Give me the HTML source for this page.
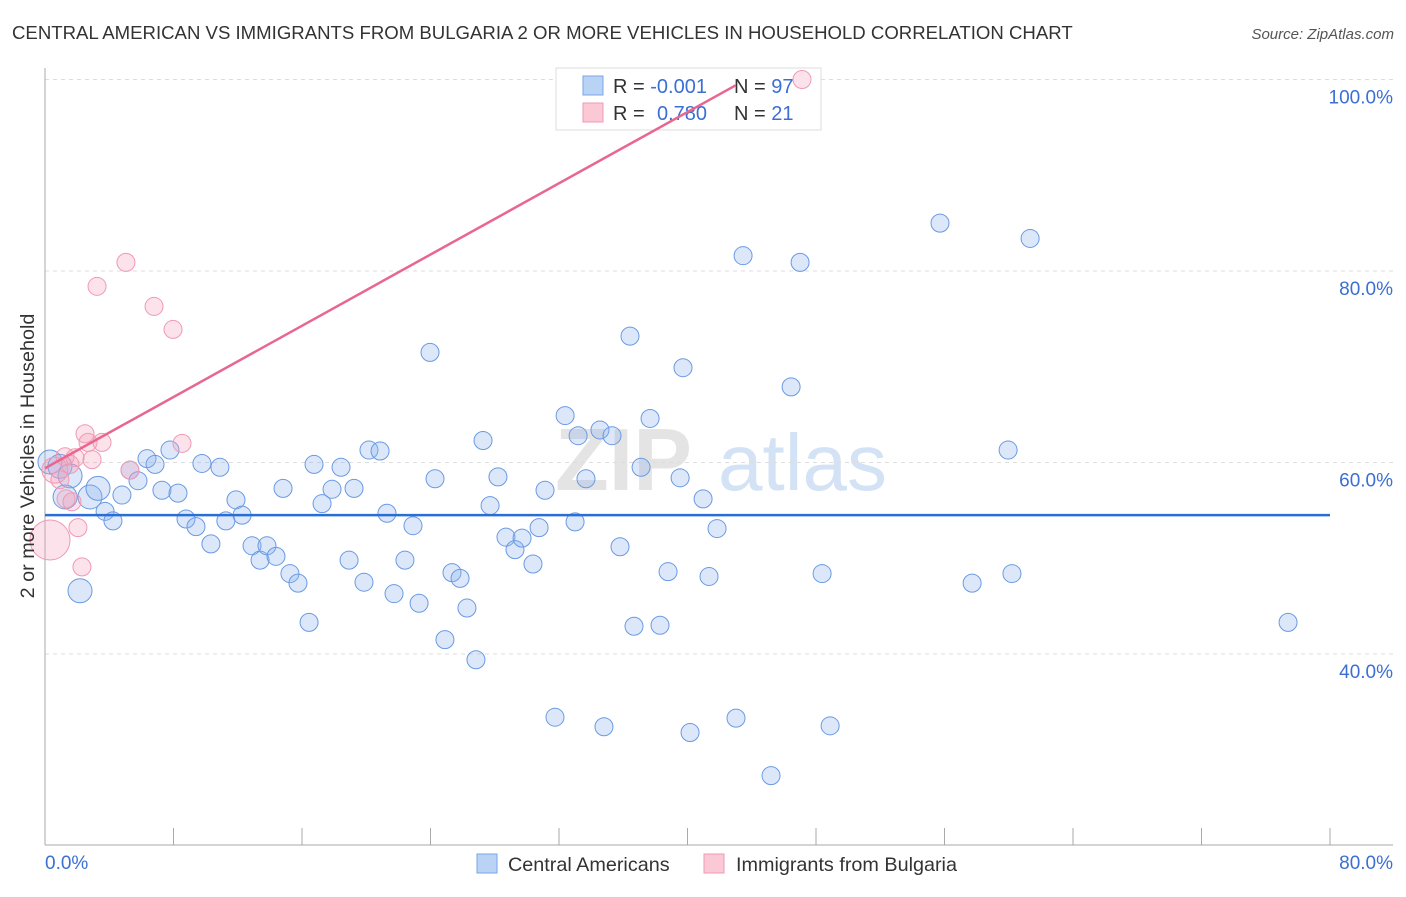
<!DOCTYPE html>
<html><head><meta charset="utf-8"><style>
body{margin:0;background:#fff;font-family:"Liberation Sans",sans-serif;}
svg text{font-family:"Liberation Sans",sans-serif;}
</style></head><body>
<svg width="1406" height="892" viewBox="0 0 1406 892" xmlns="http://www.w3.org/2000/svg">
<text x="12" y="39" font-size="18.6" fill="#333">CENTRAL AMERICAN VS IMMIGRANTS FROM BULGARIA 2 OR MORE VEHICLES IN HOUSEHOLD CORRELATION CHART</text>
<text x="1394" y="39" font-size="15" fill="#555" text-anchor="end" font-style="italic">Source: ZipAtlas.com</text>
<g>
<text x="555" y="490" font-size="88" fill="#e4e4e4" font-family="Liberation Serif" font-weight="bold">ZIP</text>
<text x="718" y="490" font-size="80" fill="#d4e2f5">atlas</text></g>
<g id="grid"></g>
<g id="axes"></g>
<g>
<rect x="556" y="68" width="265" height="62" fill="#fff" stroke="#ddd"/>
<rect x="583" y="76" width="20" height="19" fill="#b9d3f5" stroke="#7aa5e6"/>
<rect x="583" y="103" width="20" height="19" fill="#fbc8d6" stroke="#ef9ab4"/>
<text x="613" y="93" font-size="20" fill="#333">R = <tspan fill="#3b6fd4">-0.001</tspan></text>
<text x="734" y="93" font-size="20" fill="#333">N = <tspan fill="#3b6fd4">97</tspan></text>
<text x="613" y="120" font-size="20" fill="#333">R = <tspan fill="#3b6fd4" x="657">0.780</tspan></text>
<text x="734" y="120" font-size="20" fill="#333">N = <tspan fill="#3b6fd4">21</tspan></text>
</g>
<g id="marks"></g>
<text transform="translate(34,456) rotate(-90)" font-size="19.8" fill="#333" text-anchor="middle">2 or more Vehicles in Household</text>
<text x="45" y="869" font-size="19" fill="#3b6fd4">0.0%</text>
<text x="1393" y="869" font-size="19" fill="#3b6fd4" text-anchor="end">80.0%</text>
<g>
<rect x="477" y="854" width="20" height="19" fill="#b9d3f5" stroke="#7aa5e6"/>
<text x="508" y="871" font-size="19.8" fill="#333">Central Americans</text>
<rect x="704" y="854" width="20" height="19" fill="#fbc8d6" stroke="#ef9ab4"/>
<text x="736" y="871" font-size="19.8" fill="#333">Immigrants from Bulgaria</text>
</g>
</svg>
<script>
const blueX=[0.31,0.93,1.56,1.25,2.80,3.30,2.18,3.74,4.23,4.79,5.29,5.79,6.35,6.85,7.28,7.78,8.28,8.78,9.40,9.77,10.33,10.89,11.26,11.89,12.27,12.89,13.39,13.82,14.38,14.82,15.25,15.75,16.44,16.75,17.25,17.87,18.43,18.93,19.24,19.86,20.17,20.86,21.29,21.73,22.41,22.91,23.29,23.97,24.28,24.90,25.34,25.84,26.27,26.83,27.27,27.71,28.20,28.70,29.26,29.70,30.38,30.76,31.13,31.75,32.38,33.00,33.19,33.68,34.55,34.80,35.30,35.80,36.42,36.67,37.11,37.67,38.29,38.79,39.54,39.72,40.16,40.97,41.34,41.84,43.02,43.46,45.20,46.45,47.01,48.38,48.88,55.72,57.72,59.96,60.20,61.33,77.39];
const blueY=[60.05,59.6,58.6,56.4,56.4,57.3,46.6,54.9,53.9,56.6,59.2,58.1,60.4,59.8,57.1,61.3,56.8,54.1,53.3,59.9,51.5,59.5,53.9,56.1,54.5,51.3,49.8,51.3,50.2,57.3,48.4,47.4,43.3,59.8,55.7,57.2,59.5,49.8,57.3,47.5,61.3,61.2,54.7,46.3,49.8,53.4,45.3,71.5,58.3,41.5,48.5,47.9,44.8,39.4,62.3,55.5,58.5,52.2,50.9,52.1,49.4,53.2,57.1,33.4,64.9,53.8,62.8,58.3,63.4,32.4,62.8,51.2,73.2,42.9,59.5,64.6,43.0,48.6,58.4,69.9,31.8,56.2,48.1,53.1,33.3,81.6,27.3,67.9,80.9,48.4,32.5,85.0,47.4,61.3,48.4,83.4,43.3];
const pinkX=[0.31,0.62,0.93,1.25,1.56,1.31,1.68,1.87,2.05,2.30,2.49,2.68,2.93,3.24,3.55,5.04,5.29,6.79,7.97,8.53,47.13];
const pinkY=[51.9,59.2,58.2,60.6,59.8,56.2,55.9,60.5,53.2,49.1,63.0,62.1,60.3,78.4,62.1,80.9,59.2,76.3,73.9,62.0,100.0];
const pinkR=[20,13,9,9,9,9,9,9,9,9,9,9,9,9,9,9,9,9,9,9,9];
const yTicks=[100,80,60,40];
const yTickLabels=["100.0%","80.0%","60.0%","40.0%"];
const xTicks=[0,8,16,24,32,40,48,56,64,72,80];
const blueFit={a:54.5,b:0};
const pinkFit={a:59.4,b:0.93,xEnd:43};
const X=v=>45+v/80*1285;
const Y=v=>79.5+(100-v)/20*191.5;
const NS="http://www.w3.org/2000/svg";
function mk(t,a,p){const e=document.createElementNS(NS,t);for(const k in a)e.setAttribute(k,a[k]);document.getElementById(p).appendChild(e);return e;}
yTicks.forEach((t,i)=>{
 const l=mk('line',{x1:45,x2:1393,y1:Y(t),y2:Y(t),stroke:'#ddd','stroke-dasharray':'4,4'},'grid');
 
 
 const tx=mk('text',{x:1393,y:Y(t)+24,'font-size':19,fill:'#3b6fd4','text-anchor':'end'},'grid');
 tx.textContent=yTickLabels[i];
 
 
});
const ya=mk('line',{x1:45,x2:45,y1:68,y2:845,stroke:'#aaa'},'axes');


const xa=mk('line',{x1:45,x2:1393,y1:845,y2:845,stroke:'#aaa'},'axes');


xTicks.forEach(t=>{
 const l=mk('line',{x1:X(t),x2:X(t),y1:828,y2:845,stroke:'#aaa'},'axes');
 
 
});
blueX.forEach((v,i)=>{
 const r=i<7?12:9;
 const c=mk('circle',{cx:X(v),cy:Y(blueY[i]),r:r,fill:'rgba(140,180,240,0.3)',stroke:'#6a9ae3','stroke-width':1},'marks');
 
 
});
pinkX.forEach((v,i)=>{
 const c=mk('circle',{cx:X(v),cy:Y(pinkY[i]),r:pinkR[i],fill:'rgba(245,160,185,0.3)',stroke:'#f09ab4','stroke-width':1},'marks');
 
 
});
const bl=mk('line',{x1:X(0),x2:X(80),y1:Y(blueFit.a),y2:Y(blueFit.a+80*blueFit.b),stroke:'#2a6ed4','stroke-width':2.5},'marks');


const pl=mk('line',{x1:X(0),x2:X(pinkFit.xEnd),y1:Y(pinkFit.a),y2:Y(pinkFit.a+pinkFit.xEnd*pinkFit.b),stroke:'#e8668f','stroke-width':2.5},'marks');


</script>
</body></html>
